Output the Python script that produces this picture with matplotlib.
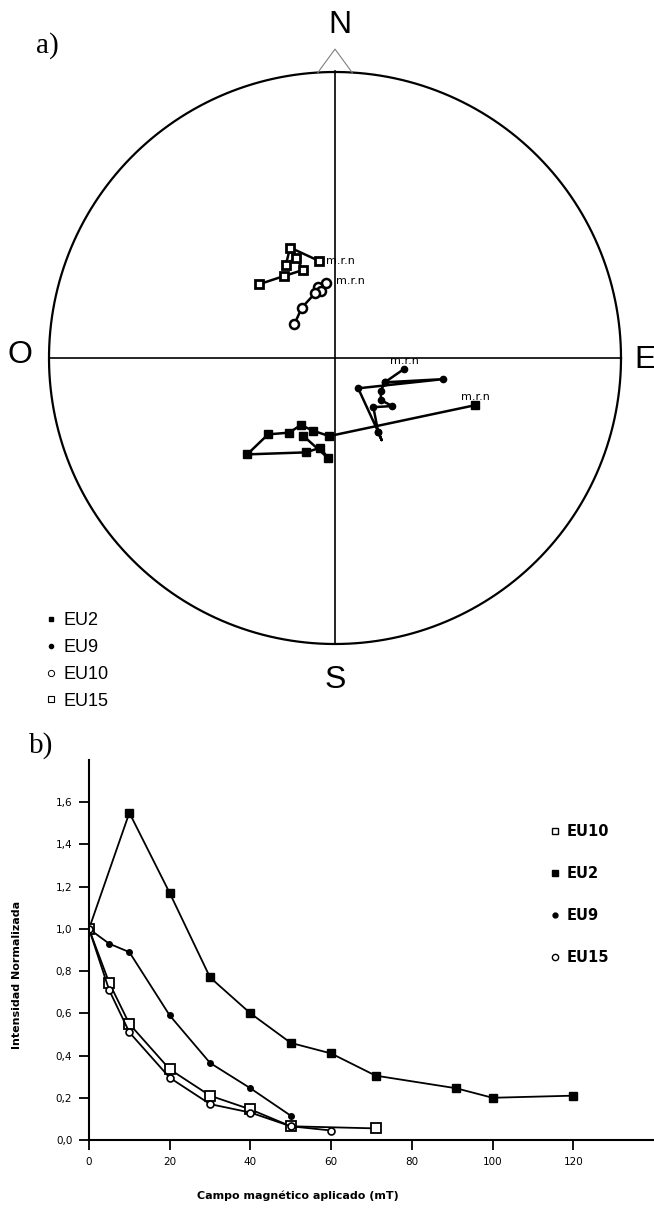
import numpy as np
import matplotlib.pyplot as plt
from matplotlib.lines import Line2D

plt.rcParams['font.family'] = ['DejaVu Sans']

# --- a) equal-area projection, AF demagnetisation paths (unit-radius net coords) ---
# EU15 (open squares), first point is m.r.n
eu15_x = [-0.055, -0.157, -0.172, -0.137, -0.111, -0.177, -0.265]
eu15_y = [0.339, 0.386, 0.325, 0.351, 0.308, 0.287, 0.258]
# EU10 (open circles)
eu10_x = [-0.031, -0.058, -0.049, -0.070, -0.116, -0.142]
eu10_y = [0.263, 0.249, 0.234, 0.226, 0.176, 0.118]
# EU9 (filled dots); the 6th point is the tail of the path (no marker)
eu9_x = [0.242, 0.174, 0.377, 0.081, 0.151, 0.163, 0.151, 0.134, 0.200, 0.160, 0.161, 0.174]
eu9_y = [-0.038, -0.085, -0.074, -0.106, -0.258, -0.287, -0.258, -0.172, -0.168, -0.147, -0.114, -0.085]
# EU2 (filled squares)
eu2_x = [0.490, -0.020, -0.078, -0.119, -0.160, -0.234, -0.307, -0.102, -0.052, -0.023, -0.111]
eu2_y = [-0.165, -0.273, -0.254, -0.234, -0.261, -0.267, -0.337, -0.330, -0.314, -0.351, -0.272]

# --- b) normalised intensity vs AF field ---
field_eu2 = [0, 10, 20, 30, 40, 50, 60, 71, 91, 100, 120]
int_eu2 = [1.0, 1.55, 1.17, 0.77, 0.60, 0.46, 0.41, 0.305, 0.245, 0.20, 0.21]
field_eu9 = [0, 5, 10, 20, 30, 40, 50]
int_eu9 = [1.0, 0.93, 0.89, 0.59, 0.365, 0.245, 0.115]
field_eu10 = [0, 5, 10, 20, 30, 40, 50, 71]
int_eu10 = [1.0, 0.745, 0.55, 0.335, 0.21, 0.145, 0.065, 0.055]
field_eu15 = [0, 5, 10, 20, 30, 40, 50, 60]
int_eu15 = [1.0, 0.71, 0.51, 0.295, 0.17, 0.13, 0.065, 0.045]

W, H = 654, 1214
fig = plt.figure(figsize=(W / 100, H / 100), dpi=100)

# top panel: 286 px per unit radius, net centre at pixel (335, 358)
R, cx, cy, top_h = 286.0, 335.0, 358.0, 720.0
ax = fig.add_axes([0, 1 - top_h / H, 1, top_h / H])
ax.set_xlim(-cx / R, (W - cx) / R)
ax.set_ylim((cy - top_h) / R, cy / R)
ax.axis('off')

t = np.linspace(0, 2 * np.pi, 500)
ax.plot(np.cos(t), np.sin(t), color='black', lw=1.6)
ax.plot([-1, 1], [0, 0], color='black', lw=1.2)
ax.plot([0, 0], [-1, 1.005], color='black', lw=1.2)
ax.plot([-0.06, 0, 0.06], [0.998, 1.08, 0.998], color='grey', lw=0.8)

big = dict(family='Liberation Sans', fontsize=23, ha='center', va='center')
ax.text(0.017, 1.164, 'N', **big)
ax.text(-1.101, 0.012, 'O', **big)
ax.text(1.084, -0.007, 'E', **big)
ax.text(0.0, -1.126, 'S', **big)
ax.text(-1.045, 1.094, 'a)', family='Liberation Serif', fontsize=21, ha='left', va='center')

ax.plot(eu15_x, eu15_y, color='black', lw=1.8, marker='s', ms=6, mfc='white', mec='black', mew=2.0)
ax.plot(eu10_x, eu10_y, color='black', lw=1.8, marker='o', ms=6.5, mfc='white', mec='black', mew=1.8)
ax.plot(eu9_x, eu9_y, color='black', lw=1.8, marker='o', ms=4.5,
        markevery=[i for i in range(len(eu9_x)) if i != 5])
ax.plot(eu2_x, eu2_y, color='black', lw=1.8, marker='s', ms=5.5)

mrn = dict(fontsize=8, textcoords='offset points')
ax.annotate('m.r.n', (eu15_x[0], eu15_y[0]), xytext=(4.5, 0), ha='left', va='center', **mrn)
ax.annotate('m.r.n', (eu10_x[0], eu10_y[0]), xytext=(7, 1), ha='left', va='center', **mrn)
ax.annotate('m.r.n', (eu9_x[0], eu9_y[0]), xytext=(0.5, 6), ha='center', va='center', **mrn)
ax.annotate('m.r.n', (eu2_x[0], eu2_y[0]), xytext=(0.5, 6), ha='center', va='center', **mrn)

top_handles = [
    Line2D([], [], ls='none', marker='s', ms=3.5, color='black'),
    Line2D([], [], ls='none', marker='o', ms=3, color='black'),
    Line2D([], [], ls='none', marker='o', ms=4.5, mfc='white', mec='black', mew=0.7),
    Line2D([], [], ls='none', marker='s', ms=4, mfc='white', mec='black', mew=0.8),
]
ax.legend(top_handles, ['EU2', 'EU9', 'EU10', 'EU15'], loc='upper left',
          bbox_to_anchor=(46 / W, 1 - 612 / H), bbox_transform=fig.transFigure,
          frameon=False, prop={'family': 'Liberation Sans', 'size': 13},
          handlelength=0.5, handletextpad=0.45, labelspacing=0.55,
          borderpad=0, borderaxespad=0)

# bottom panel
bx = fig.add_axes([89 / W, (H - 1140) / H, (W - 89) / W, 380 / H])
bx.plot(field_eu2, int_eu2, color='black', lw=1.3, marker='s', ms=5.5)
bx.plot(field_eu9, int_eu9, color='black', lw=1.3, marker='o', ms=4)
bx.plot(field_eu10, int_eu10, color='black', lw=1.3, marker='s', ms=6.5, mfc='white', mec='black', mew=1.3)
bx.plot(field_eu15, int_eu15, color='black', lw=1.3, marker='o', ms=5, mfc='white', mec='black', mew=1.2)
bx.set_xlim(0, 140)
bx.set_ylim(0, 1.8)
bx.spines['top'].set_visible(False)
bx.spines['right'].set_visible(False)
for s in ('left', 'bottom'):
    bx.spines[s].set_linewidth(1.5)
bx.set_xticks(range(0, 121, 20))
yt = np.arange(0, 1.61, 0.2)
bx.set_yticks(yt)
bx.set_yticklabels([f'{v:.1f}'.replace('.', ',') for v in yt])
bx.tick_params(direction='out', length=7, width=1.3, pad=5, labelsize=7.5)

bottom_handles = [
    Line2D([], [], ls='none', marker='s', ms=5, mfc='white', mec='black', mew=1.0),
    Line2D([], [], ls='none', marker='s', ms=5, color='black'),
    Line2D([], [], ls='none', marker='o', ms=3.5, color='black'),
    Line2D([], [], ls='none', marker='o', ms=4.5, mfc='white', mec='black', mew=1.0),
]
bx.legend(bottom_handles, ['EU10', 'EU2', 'EU9', 'EU15'], loc='upper left',
          bbox_to_anchor=(551 / W, 1 - 824 / H), bbox_transform=fig.transFigure,
          frameon=False, prop={'weight': 'bold', 'size': 10.5},
          handlelength=0.5, handletextpad=0.6, labelspacing=1.85,
          borderpad=0, borderaxespad=0)

fig.text(29 / W, 1 - 746 / H, 'b)', family='Liberation Serif', fontsize=21, ha='left', va='center')
fig.text(298 / W, 1 - 1196 / H, 'Campo magnético aplicado (mT)', fontsize=8,
         fontweight='bold', ha='center', va='center')
fig.text(17 / W, 1 - 975 / H, 'Intensidad Normalizada', fontsize=8, fontweight='bold',
         rotation=90, ha='center', va='center')

fig.savefig('out.png', dpi=100)
